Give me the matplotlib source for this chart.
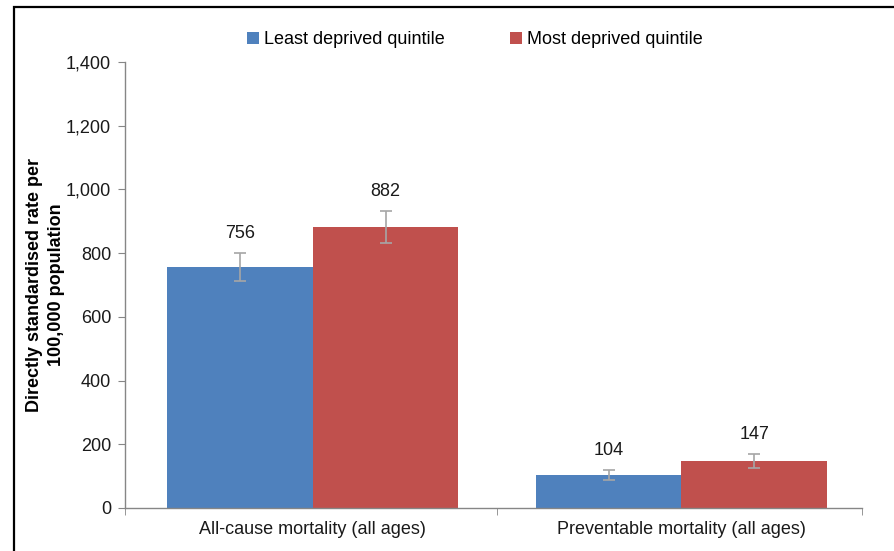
import matplotlib.pyplot as plt
from matplotlib.patches import Rectangle
from matplotlib.ticker import FuncFormatter
import numpy as np

plt.rcParams['font.family'] = ['Liberation Sans', 'DejaVu Sans']

# dados
categorias = ['All-cause mortality (all ages)', 'Preventable mortality (all ages)']
series = ['Least deprived quintile', 'Most deprived quintile']
valores_least = [756, 104]
valores_most = [882, 147]
erro_least = [45, 15]
erro_most = [51, 22]

cor_least = '#4F81BD'
cor_most = '#C0504D'
cor_erro = '#A6A6A6'
cor_eixo = '#868686'
cor_texto = '#1a1a1a'

fig = plt.figure(figsize=(8.95, 5.51), dpi=100)
ax = fig.add_axes([125 / 895, 1 - 508 / 551, 737 / 895, 446 / 551])

x = np.arange(len(categorias))
w = 0.395

kw_erro = dict(ecolor=cor_erro, capsize=4, elinewidth=1.2, capthick=1.2)
b1 = ax.bar(x - w / 2, valores_least, w, color=cor_least, label=series[0],
            yerr=erro_least, error_kw=kw_erro)
b2 = ax.bar(x + w / 2, valores_most, w, color=cor_most, label=series[1],
            yerr=erro_most, error_kw=kw_erro)

# rótulos acima das barras de erro
for xs, vals, errs in [(x - w / 2, valores_least, erro_least), (x + w / 2, valores_most, erro_most)]:
    for xi, v, e in zip(xs, vals, errs):
        ax.annotate(f'{v}', (xi, v + e), xytext=(0, 8), textcoords='offset points',
                    ha='center', va='bottom', fontsize=13, color=cor_texto)

ax.set_ylim(0, 1400)
ax.set_xlim(-0.51, 1.49)
ax.set_yticks(range(0, 1401, 200))
ax.yaxis.set_major_formatter(FuncFormatter(lambda v, p: f'{int(v):,}'))
ax.set_xticks(x)
ax.set_xticklabels(categorias)
ax.set_xticks([-0.51, 0.5, 1.49], minor=True)
ax.tick_params(axis='x', which='major', length=0, labelsize=13, pad=9, labelcolor=cor_texto)
ax.tick_params(axis='x', which='minor', length=5, color=cor_eixo, direction='out')
ax.tick_params(axis='y', length=5, color=cor_eixo, labelsize=13, pad=5, labelcolor=cor_texto)

for s in ['top', 'right']:
    ax.spines[s].set_visible(False)
for s in ['left', 'bottom']:
    ax.spines[s].set_color(cor_eixo)
    ax.spines[s].set_linewidth(1)

ax.set_ylabel('Directly standardised rate per\n100,000 population', fontsize=13,
              fontweight='bold', linespacing=1.4)
ax.yaxis.set_label_coords(-0.081, 0.5)

fig.legend(handles=[b1, b2], labels=series, loc='center', bbox_to_anchor=(475 / 895, 1 - 40 / 551),
           ncol=2, frameon=False, fontsize=13, handlelength=0.65, handleheight=0.65,
           handletextpad=0.3, columnspacing=3.6)

# moldura da figura (cortada à direita e embaixo)
fig.add_artist(Rectangle((14.5 / 895, -0.1), 1.2, 1.1 - 7.5 / 551, fill=False,
                         lw=1.6, edgecolor='black', transform=fig.transFigure, clip_on=False))

plt.savefig('out.png', dpi=100)
